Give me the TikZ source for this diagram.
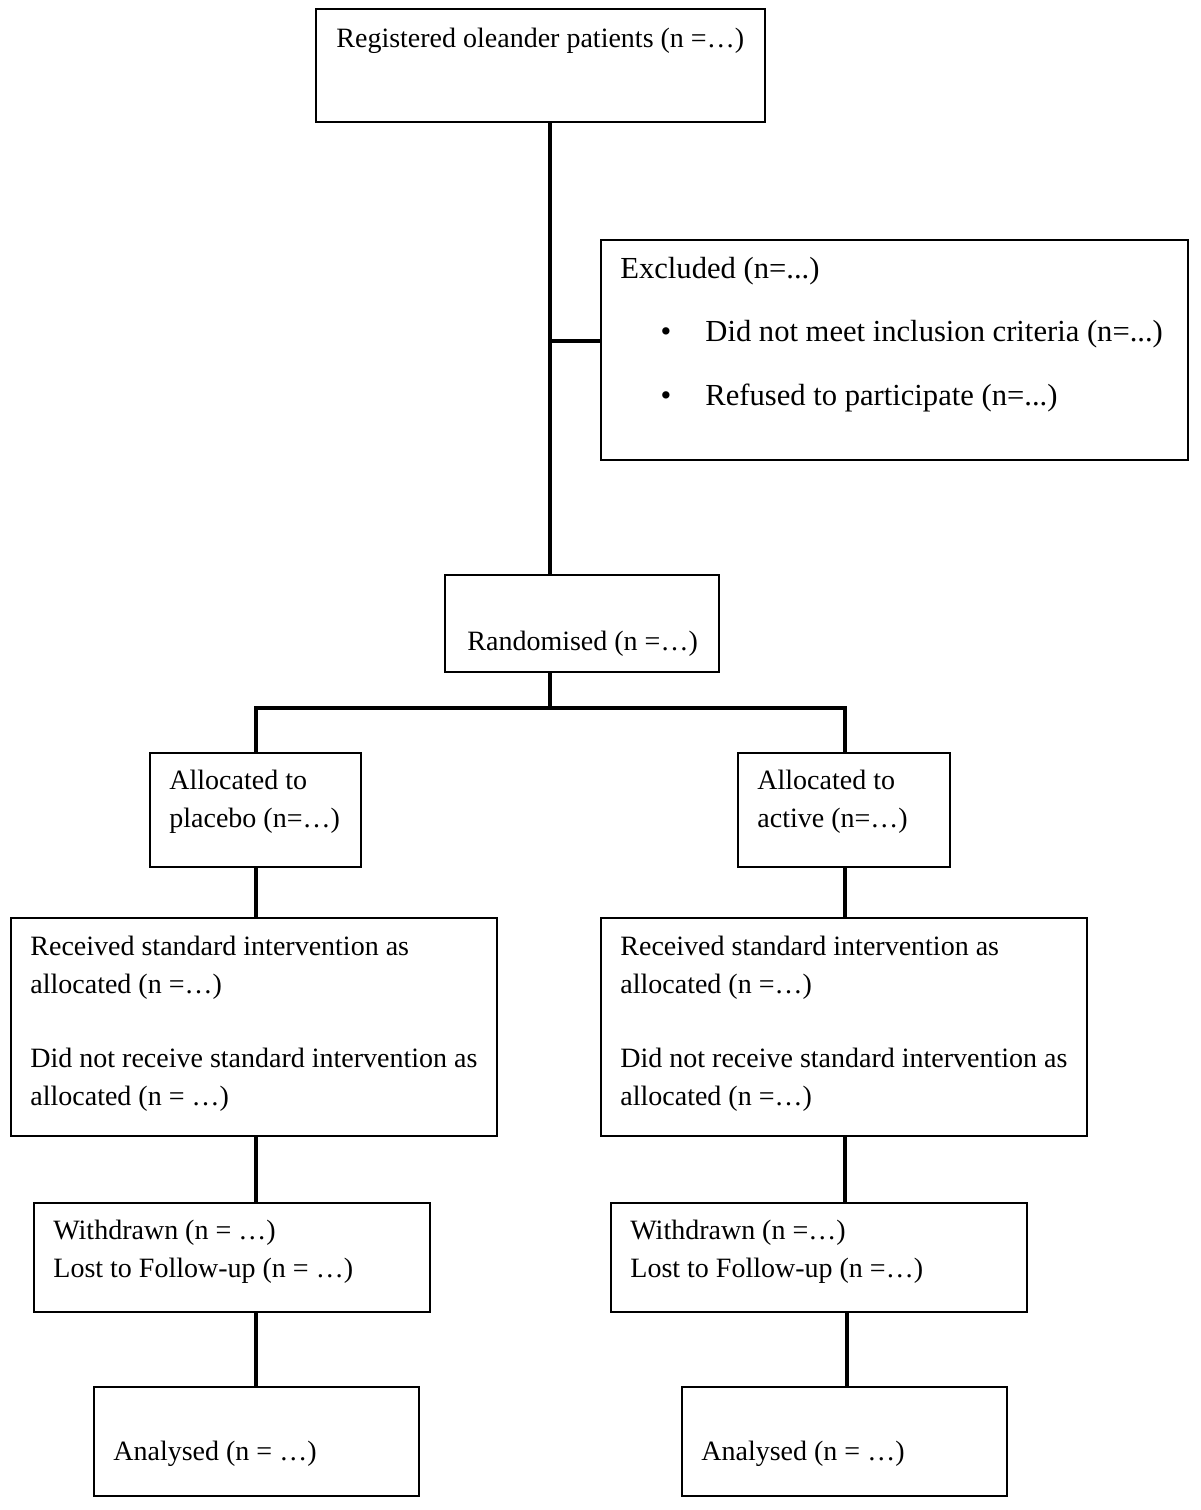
\documentclass[tikz,border=0pt]{standalone}
\usepackage{fontspec}
\setmainfont{Liberation Serif}
\usetikzlibrary{fit}
\begin{document}
\begin{tikzpicture}[x=0.5pt,y=-0.5pt,
  box/.style={draw, line width=1pt, inner sep=0pt},
  conn/.style={line width=2pt},
  txt/.style={anchor=base west, inner sep=0pt, font=\fontsize{14}{17}\selectfont},
  xtxt/.style={txt, font=\fontsize{15.3}{18}\selectfont}]
\useasboundingbox (0,0) rectangle (1200,1510);
% boxes
\node[box, fit={(316,9)(765,122)}] (reg) {};
\node[box, fit={(601,240)(1188,460)}] (excl) {};
\node[box, fit={(445,575)(719,672)}] (rand) {};
\node[box, fit={(150,753)(361,867)}] (pl) {};
\node[box, fit={(738,753)(950,867)}] (ac) {};
\node[box, fit={(11,918)(497,1136)}] (recL) {};
\node[box, fit={(601,918)(1087,1136)}] (recR) {};
\node[box, fit={(34,1203)(430,1312)}] (wdL) {};
\node[box, fit={(611,1203)(1027,1312)}] (wdR) {};
\node[box, fit={(94,1387)(419,1496)}] (anL) {};
\node[box, fit={(682,1387)(1007,1496)}] (anR) {};
% helper coordinates
\coordinate (spine) at (550,0);
\coordinate (ej) at (550,341);
\coordinate (br) at (550,708);
\coordinate (lx) at (256,0);
\coordinate (rx) at (845,0);
\coordinate (rx2) at (847,0);
% connectors
\draw[conn] (reg.south -| spine) -- (rand.north -| spine);
\draw[conn] (ej) -- (ej -| excl.west);
\draw[conn] (rand.south -| spine) -- (br);
\draw[conn] (pl.north -| lx) -- (br -| lx) -- (br -| rx) -- (ac.north -| rx);
\draw[conn] (pl.south -| lx) -- (recL.north -| lx);
\draw[conn] (ac.south -| rx) -- (recR.north -| rx);
\draw[conn] (recL.south -| lx) -- (wdL.north -| lx);
\draw[conn] (recR.south -| rx) -- (wdR.north -| rx);
\draw[conn] (wdL.south -| lx) -- (anL.north -| lx);
\draw[conn] (wdR.south -| rx2) -- (anR.north -| rx2);
% texts
\node[txt] (t1) at (336,47) {Registered oleander patients (n =…)};
\node[xtxt] (t2) at (620,278) {Excluded (n=...)};
\node[xtxt, anchor=base] (b1) at (666,341) {\textbullet};
\node[xtxt] (t3) at (705,341) {Did not meet inclusion criteria (n=...)};
\node[xtxt, anchor=base] (b2) at (666,405) {\textbullet};
\node[xtxt] (t4) at (705,405) {Refused to participate (n=...)};
\node[txt] (t5) at (467,650) {Randomised (n =…)};
\node[txt] (t6) at (169,789) {Allocated to};
\node[txt] (t7) at (169,827) {placebo (n=…)};
\node[txt] (t8) at (757,789) {Allocated to};
\node[txt] (t9) at (757,827) {active (n=…)};
\node[txt] (t10) at (30,955) {Received standard intervention as};
\node[txt] (t11) at (30,993) {allocated (n =…)};
\node[txt] (t12) at (30,1067) {Did not receive standard intervention as};
\node[txt] (t13) at (30,1105) {allocated (n = …)};
\node[txt] (t14) at (620,955) {Received standard intervention as};
\node[txt] (t15) at (620,993) {allocated (n =…)};
\node[txt] (t16) at (620,1067) {Did not receive standard intervention as};
\node[txt] (t17) at (620,1105) {allocated (n =…)};
\node[txt] (t18) at (53,1239) {Withdrawn (n = …)};
\node[txt] (t19) at (53,1277) {Lost to Follow-up (n = …)};
\node[txt] (t20) at (630,1239) {Withdrawn (n =…)};
\node[txt] (t21) at (630,1277) {Lost to Follow-up (n =…)};
\node[txt] (t22) at (113,1460) {Analysed (n = …)};
\node[txt] (t23) at (701,1460) {Analysed (n = …)};
\end{tikzpicture}
\end{document}
